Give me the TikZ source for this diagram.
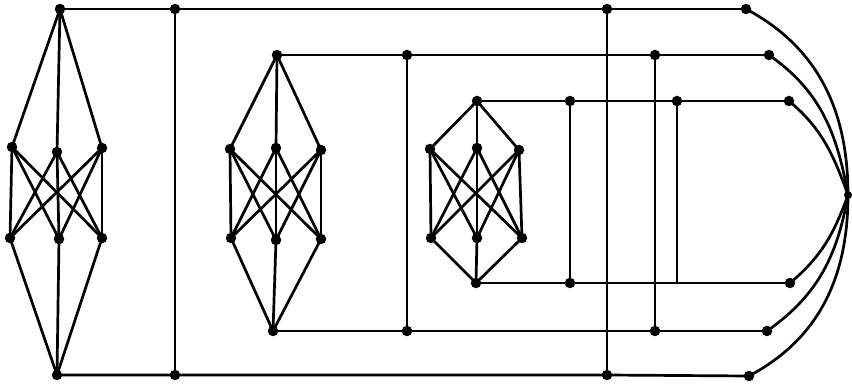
\documentclass[tikz,border=0pt]{standalone}
\begin{document}
\begin{tikzpicture}[x=1pt,y=-1pt,
  dot/.style={circle,fill=black,inner sep=0pt,minimum size=10.5pt},
  edge/.style={line width=2.7pt,line cap=round}]
\useasboundingbox (0,0) rectangle (852,387);
% gadget A
\node[dot] (At) at (60,9) {};
\node[dot] (Au1) at (12,147) {};
\node[dot] (Au2) at (57,152) {};
\node[dot] (Au3) at (102,148) {};
\node[dot] (Al1) at (10,238) {};
\node[dot] (Al2) at (59,239) {};
\node[dot] (Al3) at (102,238) {};
\node[dot] (Ab) at (57,375) {};
% gadget B
\node[dot] (Bt) at (277,55) {};
\node[dot] (Bu1) at (230,149) {};
\node[dot] (Bu2) at (276,148) {};
\node[dot] (Bu3) at (321,150) {};
\node[dot] (Bl1) at (231,238) {};
\node[dot] (Bl2) at (276,240) {};
\node[dot] (Bl3) at (321,239) {};
\node[dot] (Bb) at (273,331) {};
% gadget C
\node[dot] (Ct) at (477,101) {};
\node[dot] (Cu1) at (430,149) {};
\node[dot] (Cu2) at (477,148) {};
\node[dot] (Cu3) at (519,150) {};
\node[dot] (Cl1) at (431,238) {};
\node[dot] (Cl2) at (477,238) {};
\node[dot] (Cl3) at (522,238) {};
\node[dot] (Cb) at (476,283) {};
% frame 1
\node[dot] (v1t) at (175,9) {};
\node[dot] (v1b) at (175,375) {};
\node[dot] (v2t) at (607,9) {};
\node[dot] (v2b) at (607,375) {};
\node[dot] (e1t) at (746,9) {};
\node[dot] (e1b) at (749,376) {};
% frame 2
\node[dot] (w1t) at (407,55) {};
\node[dot] (w1b) at (407,331) {};
\node[dot] (w2t) at (655,55) {};
\node[dot] (w2b) at (655,331) {};
\node[dot] (e2t) at (769,55) {};
\node[dot] (e2b) at (767,331) {};
% frame 3
\node[dot] (u1t) at (570,101) {};
\node[dot] (u1b) at (570,283) {};
\node[dot] (u2t) at (677,101) {};
\coordinate (u2b) at (677,283);
\node[dot] (e3t) at (789,101) {};
\node[dot] (e3b) at (790,283) {};
% apex
\node[dot,minimum size=8pt] (P) at (848,195) {};

\begin{scope}[edge]
\foreach \g in {A,B,C}{
  \foreach \i in {1,2,3}{
    \draw (\g t.center) -- (\g u\i.center);
    \draw (\g l\i.center) -- (\g b.center);
    \foreach \j in {1,2,3}{
      \draw (\g u\i.center) -- (\g l\j.center);
    }
  }
}
% frame 1
\draw (At.center) -- (v1t.center) -- (v2t.center) -- (e1t.center);
\draw (Ab.center) -- (v1b.center) -- (v2b.center) -- (e1b.center);
\draw (v1t.center) -- (v1b.center);
\draw (v2t.center) -- (v2b.center);
% frame 2
\draw (Bt.center) -- (w1t.center) -- (w2t.center) -- (e2t.center);
\draw (Bb.center) -- (w1b.center) -- (w2b.center) -- (e2b.center);
\draw (w1t.center) -- (w1b.center);
\draw (w2t.center) -- (w2b.center);
% frame 3
\draw (Ct.center) -- (u1t.center) -- (u2t.center) -- (e3t.center);
\draw (Cb.center) -- (u1b.center) -- (u2b) -- (e3b.center);
\draw (u1t.center) -- (u1b.center);
\draw (u2t.center) -- (u2b);
% curves
\draw (e1t.center) to[out=-28,in=90] (P.center);
\draw (e1b.center) to[out=28,in=-90] (P.center);
\draw (e2t.center) to[out=-35,in=100] (P.center);
\draw (e2b.center) to[out=35,in=-100] (P.center);
\draw (e3t.center) to[out=-40,in=110] (P.center);
\draw (e3b.center) to[out=40,in=-110] (P.center);
\end{scope}
\end{tikzpicture}
\end{document}
